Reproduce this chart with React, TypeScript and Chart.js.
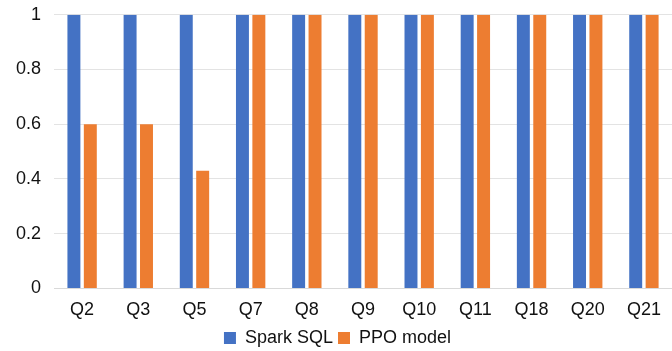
import React, { useEffect, useRef } from "react";
import { Chart, registerables } from "chart.js";

Chart.register(...registerables);

const categories = ["Q2", "Q3", "Q5", "Q7", "Q8", "Q9", "Q10", "Q11", "Q18", "Q20", "Q21"];
const sparkSql = [1, 1, 1, 1, 1, 1, 1, 1, 1, 1, 1];
const ppoModel = [0.6, 0.6, 0.43, 1, 1, 1, 1, 1, 1, 1, 1];
const yTickLabels: Record<string, string> = { "0": "0", "0.2": "0.2", "0.4": "0.4", "0.6": "0.6", "0.8": "0.8", "1": "1" };

export default function App() {
  const ref = useRef<HTMLCanvasElement | null>(null);

  useEffect(() => {
    if (!ref.current) return;
    const font = { family: "'Liberation Sans', Arial, sans-serif", size: 18 };
    const chart = new Chart(ref.current, {
      type: "bar",
      data: {
        labels: categories,
        datasets: [
          {
            label: "Spark SQL",
            data: sparkSql,
            backgroundColor: "#4472C4",
            borderWidth: 0,
            barPercentage: 0.79,
            categoryPercentage: 0.584,
          },
          {
            label: "PPO model",
            data: ppoModel,
            backgroundColor: "#ED7D31",
            borderWidth: 0,
            barPercentage: 0.79,
            categoryPercentage: 0.584,
          },
        ],
      },
      options: {
        animation: false,
        responsive: false,
        maintainAspectRatio: false,
        layout: { padding: { left: 3, right: 0, top: 0, bottom: 0 } },
        plugins: {
          tooltip: { enabled: false },
          legend: {
            position: "bottom",
            labels: {
              font,
              color: "#111",
              boxWidth: 12,
              boxHeight: 12,
              padding: 5,
            },
          },
        },
        scales: {
          x: {
            grid: { display: false },
            border: { display: true, color: "#d9d9d9" },
            ticks: { font, color: "#111", padding: 3, maxRotation: 0 },
          },
          y: {
            min: 0,
            max: 1,
            grid: { color: "#e3e3e3", drawTicks: false },
            border: { display: false },
            ticks: {
              font,
              color: "#111",
              padding: 13,
              stepSize: 0.2,
              callback: (v: any) => yTickLabels[String(Math.round(Number(v) * 10) / 10)] ?? String(v),
            },
          },
        },
      },
    });
    return () => chart.destroy();
  }, []);

  return (
    <div style={{ position: "fixed", left: 0, top: 0, width: 672, height: 351, background: "#fff", overflow: "hidden" }}>
      <canvas
        ref={ref}
        width={672}
        height={366}
        style={{ position: "absolute", left: 0, top: -9, width: 672, height: 366 }}
      />
    </div>
  );
}
